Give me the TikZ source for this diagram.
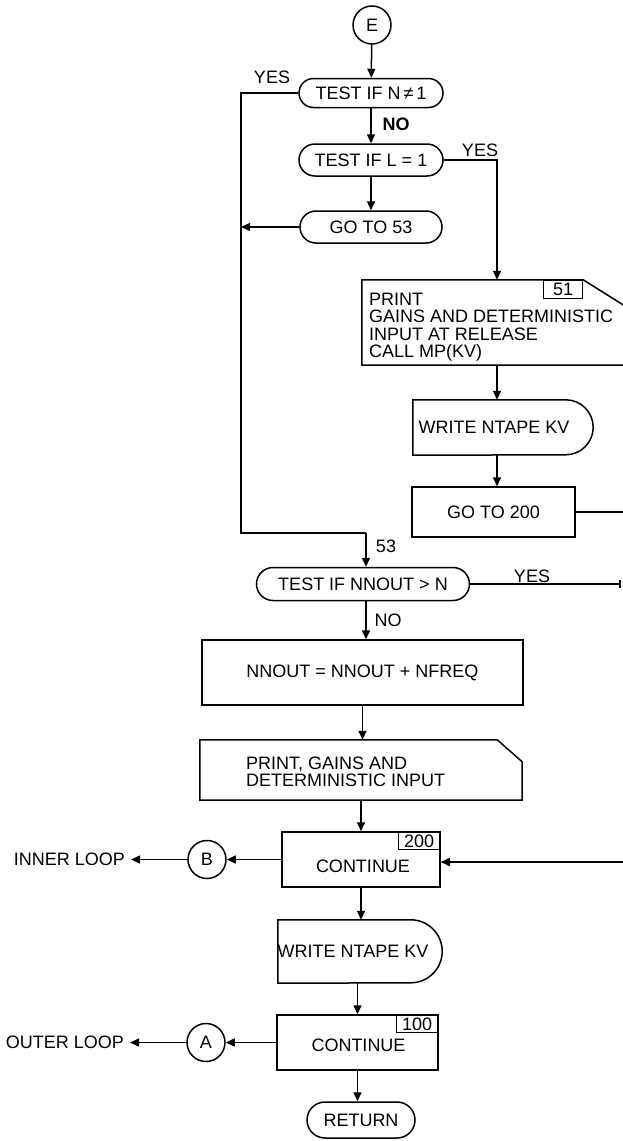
\documentclass[tikz,border=0pt]{standalone}
\usepackage{fontspec}
\setmainfont{Liberation Sans}
\usetikzlibrary{arrows.meta,calc}
\newcommand\diagfont{\fontsize{18}{17.4}\selectfont}
\begin{document}
\begin{tikzpicture}[x=1pt,y=-1pt,
  every node/.style={font=\diagfont, inner sep=0pt},
  ln/.style={line width=1.5pt},
  arr/.style={ln,-{Triangle[length=9pt,width=8pt]}},
  term/.style={draw, ln, rectangle},
  boxn/.style={draw, ln, rectangle},
  shp/.style={rectangle},
  circ/.style={draw, ln, circle, minimum size=38pt},
  tag/.style={draw, line width=1.1pt, rectangle, anchor=north east, minimum width=42pt, minimum height=18pt},
]
\useasboundingbox (0,0) rectangle (623,1141);
\fill[white] (0,0) rectangle (623,1141);

% ---- top column
\node[circ] (E) at (372,25) {E};
\node[term, rounded corners=14.5pt, minimum width=144pt, minimum height=29pt] (N1) at (371,93) {TEST IF N\,≠\,1};
\node[term, rounded corners=16pt, minimum width=144pt, minimum height=32pt] (L1) at (371,160) {TEST IF L = 1};
\node[term, rounded corners=16pt, minimum width=142pt, minimum height=32pt] (G53) at (371,227) {GO TO 53};

\node (yes1) at (272,77) {YES};
\node[font=\diagfont\bfseries] (no1) at (396,124) {NO};
\node (yes2) at (480,150) {YES};

% ---- right column
\node[shp, minimum width=264pt, minimum height=85pt] (PR1) at (494,322.5) {};
\draw[ln] (PR1.north west) -- ($(PR1.north east)+(-43,0)$) -- ($(PR1.north east)+(0,27)$) -- (PR1.south east) -- (PR1.south west) -- cycle;
\node[align=left, anchor=west] (PR1t) at (369,327) {PRINT\\GAINS AND DETERMINISTIC\\INPUT AT RELEASE\\CALL MP(KV)};
\node[tag, minimum width=39pt, minimum height=18pt] (T51) at ($(PR1.north east)+(-43,0)$) {51};

\node[shp, minimum width=180pt, minimum height=55pt] (W1) at (503,427.5) {};
\draw[ln] (W1.north west) -- ($(W1.north east)+(-27.5,0)$) arc[start angle=90,end angle=-90,radius=27.5pt] -- (W1.south west) -- cycle;
\node (W1t) at ($(W1.center)+(-9,0)$) {WRITE NTAPE KV};

\node[boxn, minimum width=163pt, minimum height=50pt] (G200) at (493.5,512) {GO TO 200};

% ---- main column lower
\node (l53) at (386,546) {53};
\node[term, rounded corners=16.5pt, minimum width=213pt, minimum height=33pt] (NN) at (363,584) {TEST IF NNOUT > N};
\node (yes3) at (532,576) {YES};
\node (no2) at (388,620) {NO};

\node[boxn, minimum width=321pt, minimum height=65pt] (AS) at (362.5,672.5) {NNOUT = NNOUT + NFREQ};

\node[shp, minimum width=322pt, minimum height=60pt] (PR2) at (361,770) {};
\draw[ln] (PR2.north west) -- ($(PR2.north east)+(-25,0)$) -- ($(PR2.north east)+(0,22)$) -- (PR2.south east) -- (PR2.south west) -- cycle;
\node[align=left, anchor=west] (PR2t) at (246,772) {PRINT, GAINS AND\\DETERMINISTIC INPUT};

\node[boxn, minimum width=158pt, minimum height=55pt] (C200) at (361,859.5) {};
\node (C200t) at ($(C200.center)+(2,7)$) {CONTINUE};
\node[tag] (T200) at (C200.north east) {200};

\node[circ] (B) at (207,859.5) {B};
\node[anchor=east, inner xsep=6pt] (IL) at (131,859.5) {INNER LOOP};

\node[shp, minimum width=164pt, minimum height=63pt] (W2) at (360,951.5) {};
\draw[ln] (W2.north west) -- ($(W2.north east)+(-31.5,0)$) arc[start angle=90,end angle=-90,radius=31.5pt] -- (W2.south west) -- cycle;
\node (W2t) at ($(W2.center)+(-7,0)$) {WRITE NTAPE KV};

\node[boxn, minimum width=161pt, minimum height=55pt] (C100) at (357.5,1042.5) {};
\node (C100t) at ($(C100.center)+(1,3)$) {CONTINUE};
\node[tag] (T100) at (C100.north east) {100};

\node[circ] (A) at (206,1042.5) {A};
\node[anchor=east, inner xsep=6pt] (OL) at (130,1042.5) {OUTER LOOP};

\node[term, rounded corners=18pt, minimum width=108pt, minimum height=36pt] (RET) at (361,1120) {RETURN};

% ---- connectors
\coordinate (lc) at (241,93);
\coordinate (j53) at (366,533);
\coordinate (rc) at (497,160);
\coordinate (r200) at (627,862);
\coordinate (yt) at (620,584);

\draw[arr] (E) -- (N1);
\draw[arr] (N1) -- (L1);
\draw[arr] (L1) -- (G53);
\draw[ln] (N1.west) -- (lc) |- (j53);
\draw[arr] (j53) -- (j53 |- NN.north);
\draw[arr] (G53.west) -- (G53.west -| lc);
\draw[arr] (L1.east) -- (rc) -- (rc |- PR1.north);
\draw[arr] (rc |- PR1.south) -- (rc |- W1.north);
\draw[arr] (rc |- W1.south) -- (rc |- G200.north);
\draw[ln] (G200.east) -- (G200.east -| r200);

\draw[ln] (NN.east) -- (yt);
\draw[line width=2.4pt] ($(yt)+(0,-4)$) -- ($(yt)+(0,4)$);
\draw[arr] (j53 |- NN.south) -- (j53 |- AS.north);
\draw[arr] (AS.south) -- (AS.south |- PR2.north);
\draw[arr] (PR2.south) -- (PR2.south |- C200.north);
\draw[arr] (r200) -- (r200 -| C200.east);
\draw[arr] (C200.west) -- (B.east);
\draw[arr] (B.west) -- (IL.east);
\draw[arr] (C200.south) -- (C200.south |- W2.north);
\draw[arr] (W2.south -| C100.north) -- (C100.north);
\draw[arr] (C100.west) -- (A.east);
\draw[arr] (A.west) -- (OL.east);
\draw[arr] (C100.south) -- (C100.south |- RET.north);
\end{tikzpicture}
\end{document}
